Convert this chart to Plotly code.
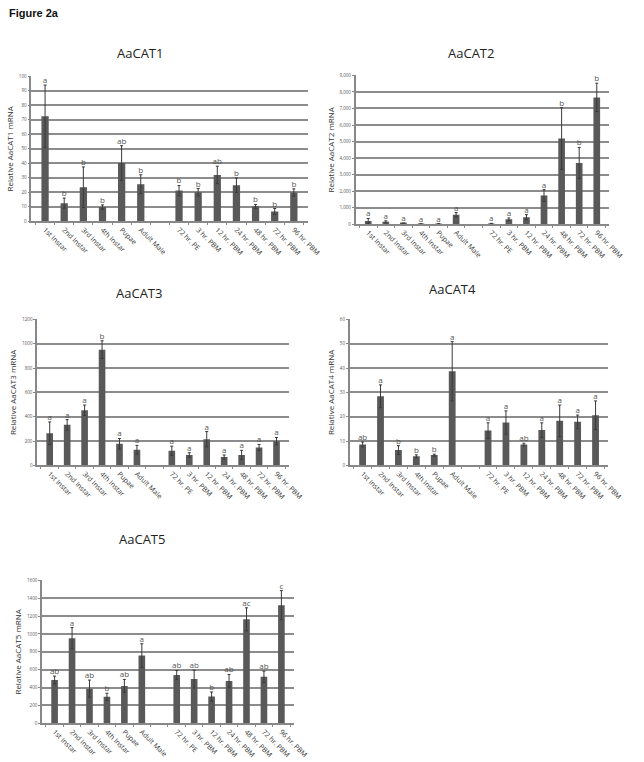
import plotly.graph_objects as go

# stages on the x axis (a blank slot separates larvae/adults from the blood-meal series)
stages = ["1st Instar", "2nd Instar", "3rd Instar", "4th Instar", "Pupae", "Adult Male",
          "72 hr. PE", "3 hr. PBM", "12 hr. PBM", "24 hr. PBM", "48 hr. PBM", "72 hr. PBM", "96 hr. PBM"]
gap = " "

cat1 = [72.5, 12.5, 23.5, 9.8, 40.2, 25.6, 21.2, 20.1, 32, 24.9, 10.3, 6.8, 19.9]
cat1_err = [21.5, 3.5, 14, 1.5, 12, 6.5, 3.5, 2.5, 6, 5, 1.3, 2, 2.5]
cat1_sig = ["a", "b", "b", "b", "ab", "b", "b", "b", "ab", "b", "b", "b", "b"]

cat2 = [200, 150, 50, 20, 20, 578, 40, 300, 430, 1733, 5180, 3705, 7670]
cat2_err = [150, 60, 20, 10, 10, 130, 15, 80, 150, 360, 1870, 940, 860]
cat2_sig = ["a", "a", "a", "a", "a", "a", "a", "a", "a", "a", "b", "b", "b"]

cat3 = [264, 333, 453, 952, 177, 128, 120, 85, 215, 68, 85, 147, 199]
cat3_err = [93, 43, 43, 73, 44, 36, 38, 19, 63, 17, 38, 25, 30]
cat3_sig = ["a", "a", "a", "b", "a", "a", "a", "a", "a", "a", "a", "a", "a"]

cat4 = [8.6, 28.4, 6.3, 3.7, 4.2, 38.7, 14.3, 17.6, 8.6, 14.5, 18.3, 17.9, 20.6]
cat4_err = [1.0, 4.7, 1.8, 0.6, 0.4, 12.2, 3.2, 4.8, 0.5, 3.0, 6.5, 2.8, 5.9]
cat4_sig = ["ab", "a", "b", "b", "b", "a", "a", "a", "ab", "a", "a", "a", "a"]

cat5 = [484, 953, 388, 296, 418, 758, 540, 495, 299, 473, 1164, 521, 1323]
cat5_err = [44, 119, 96, 40, 73, 133, 51, 100, 52, 74, 129, 63, 163]
cat5_sig = ["ab", "a", "ab", "b", "ab", "a", "ab", "ab", "b", "ab", "ac", "ab", "c"]

W, H = 644, 762

# name, values, errors, letters, y max, y step, plot box in pixels (left, top, right, bottom), title xy
panels = [
    ("AaCAT1", cat1, cat1_err, cat1_sig, 100, 10, (32, 74, 315, 220), (143, 50)),
    ("AaCAT2", cat2, cat2_err, cat2_sig, 9000, 1000, (364, 73, 624, 223), (482, 50)),
    ("AaCAT3", cat3, cat3_err, cat3_sig, 1200, 200, (38, 319, 296, 466), (142, 292)),
    ("AaCAT4", cat4, cat4_err, cat4_sig, 60, 10, (358, 319, 623, 466), (463, 288)),
    ("AaCAT5", cat5, cat5_err, cat5_sig, 1600, 200, (43, 582, 301, 726), (145, 540)),
]

font = "Open Sans, DejaVu Sans, sans-serif"
fig = go.Figure()
annotations = [dict(text="<b>Figure 2a</b>", x=7 / W, y=1 - 2 / H, xref="paper", yref="paper",
                    xanchor="left", yanchor="top", showarrow=False,
                    font=dict(family="Liberation Sans, Arial", size=11, color="#111"))]

for i, (name, vals, errs, sig, ymax, step, box, tpos) in enumerate(panels):
    n = "" if i == 0 else str(i + 1)
    xa, ya = "x" + n, "y" + n
    fig.add_trace(go.Bar(x=stages, y=vals, xaxis=xa, yaxis=ya, width=0.38,
                         marker=dict(color="#595959", line=dict(width=0)),
                         error_y=dict(type="data", array=errs, color="#3a3a3a",
                                      thickness=1, width=1.5)))
    fig.add_trace(go.Scatter(x=stages, y=[v + e for v, e in zip(vals, errs)], text=sig,
                             mode="text", textposition="top center", xaxis=xa, yaxis=ya,
                             textfont=dict(family=font, size=8, color="#555"),
                             cliponaxis=False))
    l, t, r, b = box
    fig.layout["xaxis" + n] = dict(
        domain=[l / W, r / W], anchor=ya, type="category",
        categoryorder="array", categoryarray=stages[:6] + [gap] + stages[6:],
        tickangle=45, tickfont=dict(family=font, size=7, color="#333"),
        showline=True, linecolor="#888", linewidth=1.5, ticks="outside",
        tickson="boundaries", ticklen=2, tickcolor="#888", showgrid=False)
    fig.layout["yaxis" + n] = dict(
        domain=[1 - b / H, 1 - t / H], anchor=xa, range=[0, ymax], dtick=step,
        tickformat="," if ymax >= 5000 else "d",
        tickfont=dict(family=font, size=4.5, color="#555"),
        showline=True, linecolor="#888", linewidth=1.5, ticks="outside",
        ticklen=2, tickcolor="#888", showgrid=True, gridcolor="#8c8c8c", gridwidth=1.5,
        zeroline=False,
        title=dict(text="Relative " + name + " mRNA", standoff=4,
                   font=dict(family=font, size=8, color="#333")))
    annotations.append(dict(text=name, x=tpos[0] / W, y=1 - tpos[1] / H, xref="paper",
                            yref="paper", xanchor="center", yanchor="middle", showarrow=False,
                            font=dict(family=font, size=13, color="#222")))

fig.update_layout(width=W, height=H, margin=dict(l=0, r=0, t=0, b=0),
                  paper_bgcolor="white", plot_bgcolor="white", showlegend=False,
                  annotations=annotations)
# the page's default body margin would push the figure 8px right/down
fig.write_html("out.html", config={"displayModeBar": False},
               post_script="document.body.style.margin='0';")
